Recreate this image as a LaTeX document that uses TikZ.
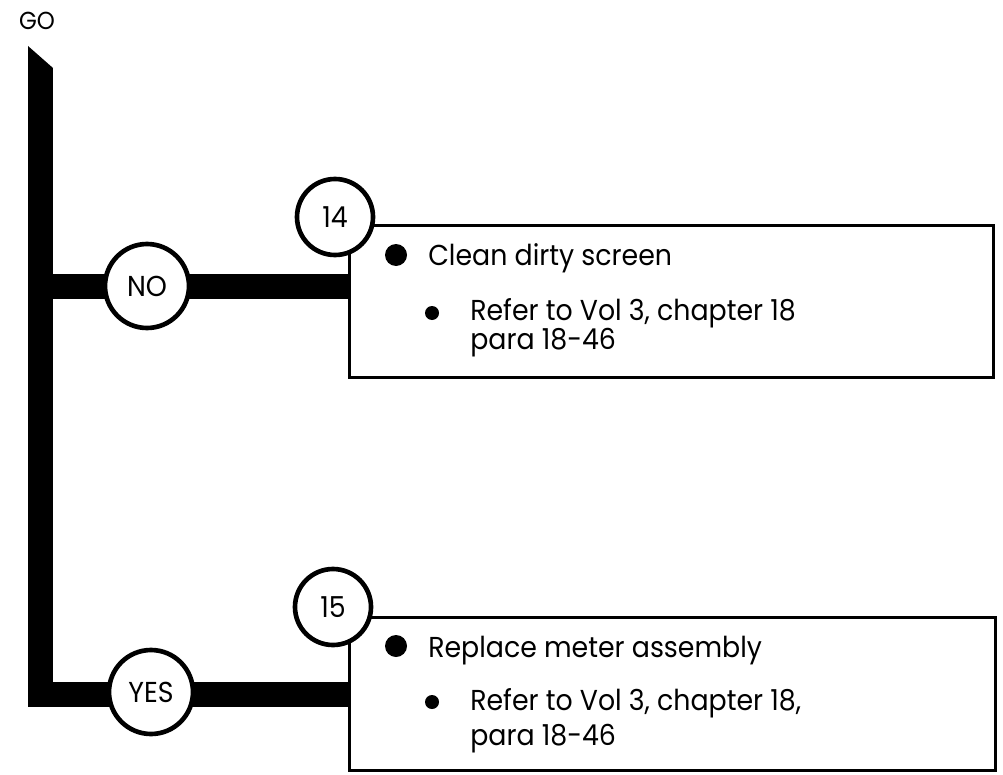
\documentclass[tikz,border=0pt]{standalone}
\usepackage{fontspec}
\setmainfont[FakeStretch=0.93]{Poppins}
\usetikzlibrary{positioning}
\newcommand{\pxu}{0.025cm}
\tikzset{
  trunk/.style={line width=25*\pxu,line join=miter},
  tag/.style={circle,draw,fill=white,line width=3.3pt,inner sep=0pt},
  bigtag/.style={tag,minimum size=84*\pxu},
  steptag/.style={tag,minimum size=76*\pxu},
  card/.style={draw,line width=2.1pt,inner sep=0pt},
  bigdot/.style={circle,fill,inner sep=0pt,minimum size=22*\pxu},
  smalldot/.style={circle,fill,inner sep=0pt,minimum size=14*\pxu},
  txt/.style={anchor=base west,inner sep=0pt},
}

\begin{document}
\begin{tikzpicture}[x=\pxu,y=-\pxu,font=\fontsize{20.5}{24}\selectfont]
  % page in px: 1003 x 774, y runs down
  \useasboundingbox (0,0) rectangle (1003,774);

  % Action cards
  \node[card,minimum width=644*\pxu,minimum height=152*\pxu] (card14) at (671.5,301.5) {};
  \node[card,minimum width=646*\pxu,minimum height=153*\pxu] (card15) at (672.5,694) {};

  % Trunk with slanted top
  \fill (28,46) -- (53,68) -- (28,68) -- cycle;
  \coordinate (top) at (40.5,68);
  \coordinate (fork) at (40.5,286.5);
  \coordinate (elbow) at (40.5,694.5);
  \draw[trunk] (top) -- (elbow) -- (card15.west |- elbow);
  \draw[trunk] (fork) -- (card14.west |- fork);

  % Decision and step circles
  \node[font=\fontsize{17.5}{20}\selectfont] (go) at (37,21) {GO};
  \node[bigtag] (no) at (147,286) {NO};
  \node[bigtag] (yes) at (151,692) {YES};
  \node[steptag] (s14) at (335,217) {14};
  \node[steptag] (s15) at (333,607) {15};

  % Card 14 text
  \node[bigdot] (d14) at (396,255) {};
  \node[txt] (t14a) at (428,265) {Clean dirty screen};
  \node[smalldot] (e14) at (432,313) {};
  \node[txt] (t14b) at (470,320) {Refer to Vol 3, chapter 18};
  \node[txt] (t14c) at (470,349) {para 18-46};

  % Card 15 text
  \node[bigdot] (d15) at (396,646) {};
  \node[txt] (t15a) at (428,657) {Replace meter assembly};
  \node[smalldot] (e15) at (432,702) {};
  \node[txt] (t15b) at (470,710) {Refer to Vol 3, chapter 18,};
  \node[txt] (t15c) at (470,745) {para 18-46};
\end{tikzpicture}
\end{document}
